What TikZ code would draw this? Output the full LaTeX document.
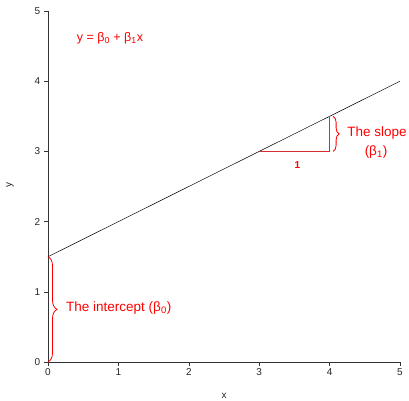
\documentclass[tikz,border=0pt]{standalone}
\usepackage{fontspec}
\setmainfont{Liberation Sans}
\usetikzlibrary{decorations.pathreplacing}
\definecolor{trired}{RGB}{215,45,45}
\begin{document}
\begin{tikzpicture}[x=70.4pt,y=70.2pt,
  axisline/.style={draw=black!80, line width=0.6pt},
  ticklab/.style={font=\fontsize{10}{12}\selectfont, text=black!85, inner sep=0pt},
  annot/.style={text=red, inner sep=0pt, font=\fontsize{13.5}{16}\selectfont},
  bracestyle/.style={draw=red, line width=0.8pt, decorate, decoration={brace, amplitude=#1}},
  tri/.style={draw=trired, line width=0.7pt},
  regline/.style={draw=black, line width=0.5pt}]
\useasboundingbox (-48pt,-38pt) rectangle (361pt,362pt);
\coordinate (O) at (0,0);
\coordinate (X5) at (5,0);
\coordinate (Y5) at (0,5);
\coordinate (A) at (0,1.5);
\coordinate (B) at (5,4);
\coordinate (P) at (3,3);
\coordinate (Q) at (4,3);
\coordinate (R) at (4,3.5);
% axes
\draw[axisline] (O) -- (X5);
\draw[axisline] (O) -- (Y5);
\foreach \i in {0,...,5}{
  \draw[axisline] (\i,0) -- ++(0,-4pt) node[ticklab, below=2.5pt] (xt\i) {\i};
  \draw[axisline] (0,\i) -- ++(-4pt,0) node[ticklab, left=3.5pt] (yt\i) {\i};
}
\node[ticklab] (xlab) at (176pt,-34pt) {x};
\node[ticklab, rotate=90] (ylab) at (-38pt,177pt) {y};
% regression line
\draw[regline] (A) -- (B);
% slope triangle
\draw[tri] (P) -- (Q) -- (R);
\node[text=red, font=\fontsize{10}{12}\selectfont\bfseries, inner sep=0pt] (one) at (249.5pt,197pt) {1};
% braces
\draw[bracestyle=9pt] (A) -- (O);
\draw[bracestyle=6pt] ([xshift=3.5pt]R) -- ([xshift=3.5pt]Q);
% labels
\node[annot] (slope) at (329pt,229pt) {The slope};
\node[annot] (b1) at (328pt,210pt) {(β\textsubscript{1})};
\node[annot, anchor=west] (icpt) at (18pt,54pt) {The intercept (β\textsubscript{0})};
\node[text=red, inner sep=0pt, font=\fontsize{12.5}{15}\selectfont] (eq) at (62pt,323.5pt) {y = β\textsubscript{0} + β\textsubscript{1}x};
\end{tikzpicture}
\end{document}
